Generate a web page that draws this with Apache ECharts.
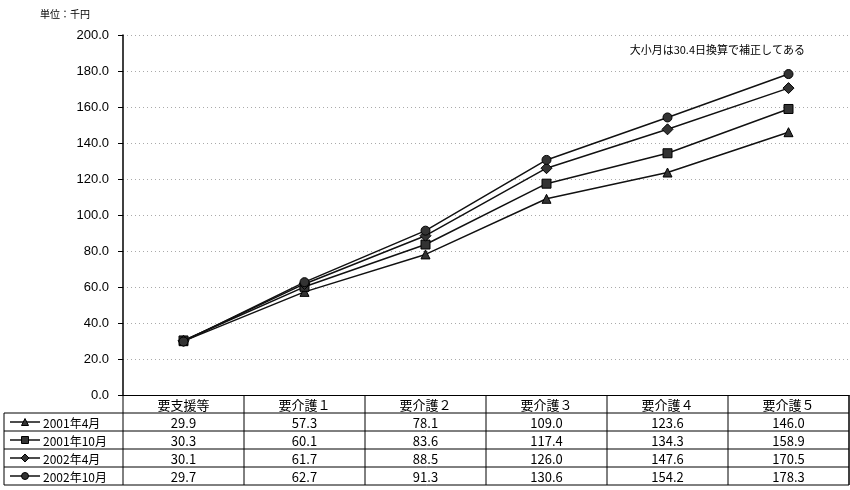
<!DOCTYPE html>
<html><head><meta charset="utf-8">
<script src="https://cdn.jsdelivr.net/npm/echarts@6/dist/echarts.min.js"></script>
<style>html,body{margin:0;padding:0;background:#fff}#c{width:850px;height:490px}</style>
</head><body><div id="c"></div>
<script>
const categories = ['要支援等','要介護１','要介護２','要介護３','要介護４','要介護５'];
const seriesNames = ['2001年4月','2001年10月','2002年4月','2002年10月'];
const s2001Apr = [29.9, 57.3, 78.1, 109.0, 123.6, 146.0];
const s2001Oct = [30.3, 60.1, 83.6, 117.4, 134.3, 158.9];
const s2002Apr = [30.1, 61.7, 88.5, 126.0, 147.6, 170.5];
const s2002Oct = [29.7, 62.7, 91.3, 130.6, 154.2, 178.3];
const yTicks = [0, 200, 20];
const unitLabel = '単位：千円';
const note = '大小月は30.4日換算で補正してある';

const allSeries = [s2001Apr, s2001Oct, s2002Apr, s2002Oct];
const symbols = ['triangle', 'rect', 'diamond', 'circle'];
const symSizes = [9, 9, 11, 9];
const JP = '"Noto Sans CJK JP", sans-serif';
const chart = echarts.init(document.getElementById('c'));
const gridLeft = 123, gridRight = 1, gridTop = 35, gridBottom = 95;
chart.setOption({
  animation: false,
  grid: {left: gridLeft, right: gridRight, top: gridTop, bottom: gridBottom},
  xAxis: {type: 'category', data: categories, boundaryGap: true,
    axisLine: {lineStyle: {color: '#000', width: 1}}, axisTick: {show: false},
    axisLabel: {show: false}},
  yAxis: {type: 'value', min: yTicks[0], max: yTicks[1], interval: yTicks[2],
    axisLine: {show: true, lineStyle: {color: '#000', width: 1.5}},
    axisTick: {show: true, length: 5, lineStyle: {color: '#000'}},
    axisLabel: {formatter: v => v.toFixed(1), color: '#000', fontSize: 13, margin: 14,
      fontFamily: '"Liberation Sans", Arial, sans-serif'},
    splitLine: {lineStyle: {color: '#aaa', type: [1, 3], width: 1}}},
  series: allSeries.map((d, i) => ({
    name: seriesNames[i], type: 'line', data: d,
    symbol: symbols[i], symbolSize: symSizes[i],
    lineStyle: {color: '#111', width: 1.5},
    itemStyle: {color: '#333', borderColor: '#000', borderWidth: 1},
    z: 3 + i
  }))
});

// build data table from category/series arrays, positioned via the chart's own axes
const g = [];
const c0 = chart.convertToPixel({xAxisIndex: 0}, 0);
const c1 = chart.convertToPixel({xAxisIndex: 0}, 1);
const colW = c1 - c0;
const y0 = chart.convertToPixel({yAxisIndex: 0}, 0);
const rowH = 18;
const right = 850 - gridRight;
const legendLeft = 4;
const textStyleBase = {fill: '#000', fontSize: 13, fontFamily: JP};
// header row
g.push({type: 'line', shape: {x1: gridLeft, y1: y0 + rowH, x2: right, y2: y0 + rowH}, style: {stroke: '#000', lineWidth: 1}});
categories.forEach((cat, j) => {
  const cx = chart.convertToPixel({xAxisIndex: 0}, j);
  g.push({type: 'text', x: cx, y: y0 + rowH / 2 + 1, style: Object.assign({text: cat, align: 'center', verticalAlign: 'middle'}, textStyleBase)});
});
// column separators
for (let j = 0; j <= categories.length; j++) {
  const x = c0 - colW / 2 + j * colW;
  g.push({type: 'line', shape: {x1: x, y1: y0, x2: x, y2: y0 + rowH * 5}, style: {stroke: '#000', lineWidth: 1}});
}
// series rows
allSeries.forEach((d, i) => {
  const top = y0 + rowH * (i + 1);
  const mid = top + rowH / 2;
  g.push({type: 'line', shape: {x1: legendLeft, y1: top + rowH, x2: right, y2: top + rowH}, style: {stroke: '#000', lineWidth: 1}});
  if (i === 0) g.push({type: 'line', shape: {x1: legendLeft, y1: top, x2: gridLeft, y2: top}, style: {stroke: '#000', lineWidth: 1}});
  d.forEach((v, j) => {
    const cx = chart.convertToPixel({xAxisIndex: 0}, j);
    g.push({type: 'text', x: cx, y: mid + 1, style: Object.assign({text: v.toFixed(1), align: 'center', verticalAlign: 'middle'}, textStyleBase)});
  });
  // legend key
  g.push({type: 'line', shape: {x1: 10, y1: mid, x2: 40, y2: mid}, style: {stroke: '#111', lineWidth: 1.5}});
  const mx = 25, s = 3.5;
  const st = {fill: '#333', stroke: '#000', lineWidth: 1};
  if (symbols[i] === 'triangle') g.push({type: 'polygon', shape: {points: [[mx, mid - s], [mx + s, mid + s], [mx - s, mid + s]]}, style: st});
  if (symbols[i] === 'rect') g.push({type: 'rect', shape: {x: mx - s, y: mid - s, width: 2 * s, height: 2 * s}, style: st});
  if (symbols[i] === 'diamond') g.push({type: 'polygon', shape: {points: [[mx, mid - s - 0.5], [mx + s + 0.5, mid], [mx, mid + s + 0.5], [mx - s - 0.5, mid]]}, style: st});
  if (symbols[i] === 'circle') g.push({type: 'circle', shape: {cx: mx, cy: mid, r: s}, style: st});
  g.push({type: 'text', x: 43, y: mid + 1, style: Object.assign({text: seriesNames[i], align: 'left', verticalAlign: 'middle'}, textStyleBase, {fontSize: 12})});
});
g.push({type: 'line', shape: {x1: legendLeft, y1: y0 + rowH, x2: legendLeft, y2: y0 + rowH * 5}, style: {stroke: '#000', lineWidth: 1}});
g.push({type: 'line', shape: {x1: right, y1: y0, x2: right, y2: y0 + rowH * 5}, style: {stroke: '#000', lineWidth: 1}});
// labels
g.push({type: 'text', x: 40, y: 14, style: {text: unitLabel, fill: '#000', fontSize: 10, fontFamily: JP, verticalAlign: 'middle'}});
g.push({type: 'text', x: 805, y: 50, style: {text: note, fill: '#000', fontSize: 11, fontFamily: JP, align: 'right', verticalAlign: 'middle'}});
chart.setOption({graphic: g});
</script></body></html>
